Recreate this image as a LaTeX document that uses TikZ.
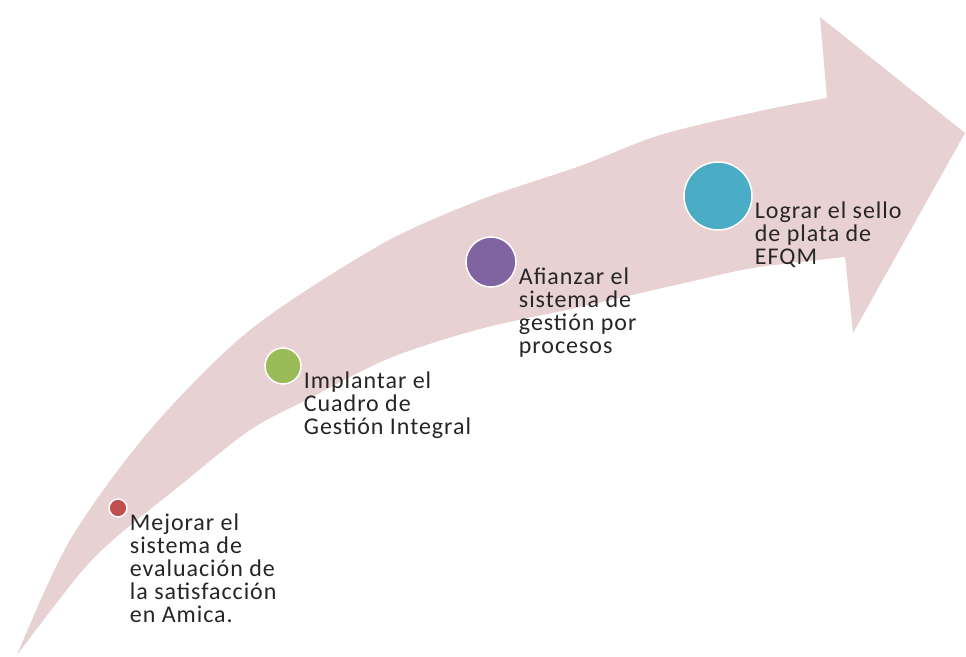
\documentclass[tikz,border=0pt]{standalone}
\usepackage{fontspec}
\setmainfont{Carlito}
\newfontfamily\etiquetas[LetterSpace=4]{Carlito}
\definecolor{flechaRosa}{HTML}{E8D1D2}
\definecolor{hitoRojo}{HTML}{C0504D}
\definecolor{hitoVerde}{HTML}{9BBB59}
\definecolor{hitoMorado}{HTML}{8064A2}
\definecolor{hitoAzul}{HTML}{4BACC6}
\definecolor{textoGris}{HTML}{262626}
\usetikzlibrary{positioning}

\begin{document}
\begin{tikzpicture}[x=1pt, y=1pt,
  hito/.style={circle, draw=white, line width=1.5pt, inner sep=0pt},
  texto/.style={align=left, text=textoGris, inner sep=0pt,
    font=\etiquetas\fontsize{24}{23}\selectfont}
]
  \useasboundingbox (0,0) rectangle (966,656);

  % Curved arrow
  \fill[flechaRosa]
    plot[smooth] coordinates {(17,1) (70,116) (150,226) (250,326) (380,411)
      (480,456) (580,490) (660,521) (760,545) (827,558)}
    -- (820,639) -- (965,523) -- (853,323)
    -- plot[smooth] coordinates {(845,399) (753,388) (680,372) (580,349)
      (480,327) (390,298) (310,258) (250,226) (183,173) (113,116) (77,79) (17,1)}
    -- cycle;

  % Milestones
  \node[hito, fill=hitoRojo, minimum size=18pt] (rojo) at (118,148) {};
  \node[hito, fill=hitoVerde, minimum size=36pt] (verde) at (283,290) {};
  \node[hito, fill=hitoMorado, minimum size=50pt] (morado) at (491,394) {};
  \node[hito, fill=hitoAzul, minimum size=68pt] (azul) at (718,460) {};

  \node[texto, below right=6pt and 2pt of rojo.east] (mejorar)
    {Mejorar el\\sistema de\\evaluación de\\la satisfacción\\en Amica.};
  \node[texto, below right=6pt and 2pt of verde.east] (implantar)
    {Implantar el\\Cuadro de\\Gestión Integral};
  \node[texto, below right=6pt and 2pt of morado.east] (afianzar)
    {Afianzar el\\sistema de\\gestión por\\procesos};
  \node[texto, below right=6pt and 2pt of azul.east] (lograr)
    {Lograr el sello\\de plata de\\EFQM};
\end{tikzpicture}
\end{document}
